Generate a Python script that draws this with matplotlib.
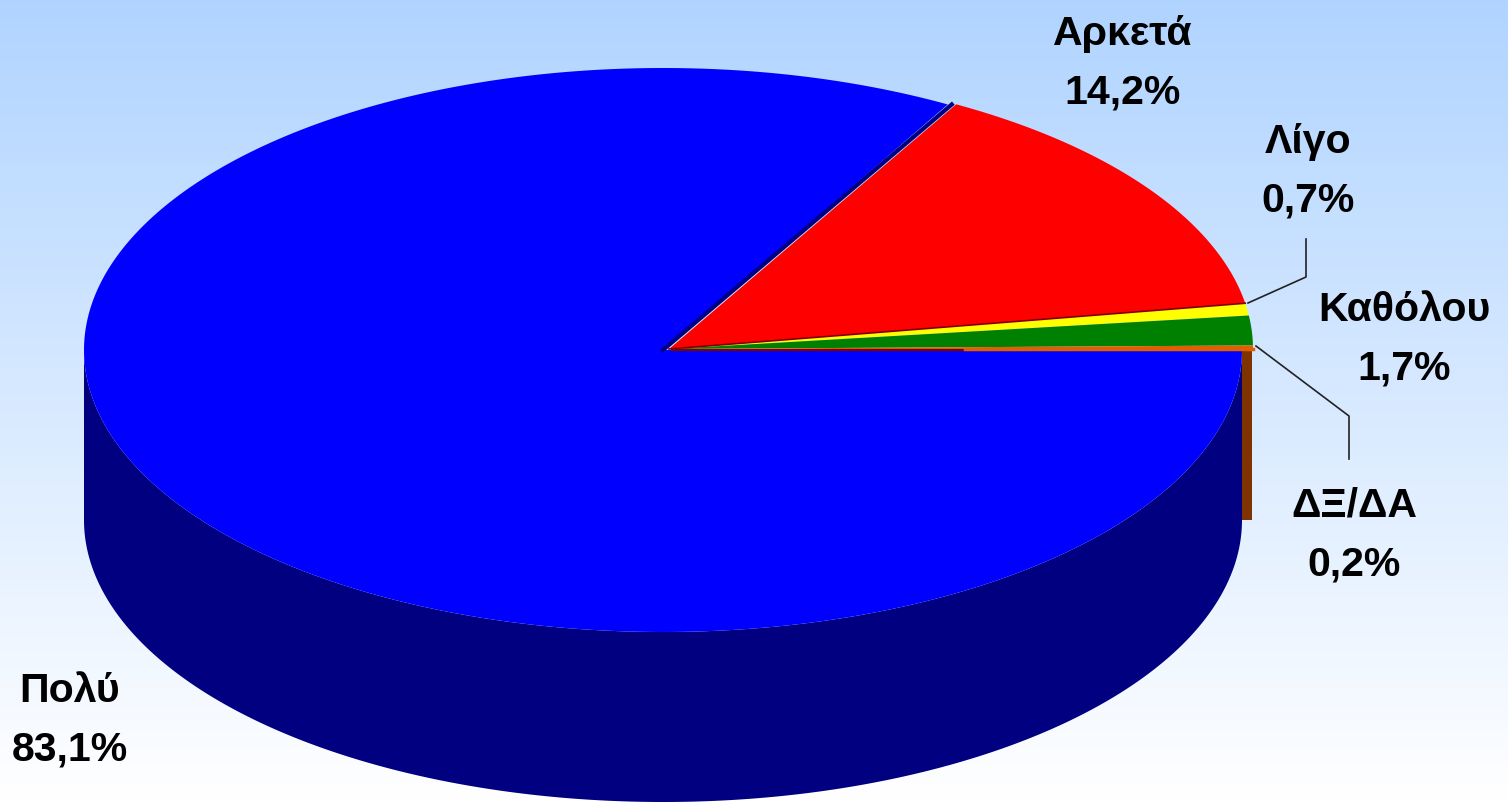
import matplotlib
matplotlib.use('Agg')
import matplotlib.pyplot as plt
import numpy as np
from matplotlib.patches import Polygon

W, H = 1508, 803

labels = ['ΔΞ/ΔΑ', 'Καθόλου', 'Λίγο', 'Αρκετά', 'Πολύ']
values = [0.2, 1.7, 0.7, 14.2, 83.1]

top_colors = ['#E06000', '#008000', '#FFFF00', '#FF0000', '#0000FF']
text_pos = [(1354, 535), (1404, 339), (1308, 171), (1123, 63), (70, 720)]

# the blue slice sits slightly inside the others
cx, cy, rx, ry = 669, 350, 584, 281
bx, by, brx, bry = 663, 351, 579, 282
depth = 170

fig = plt.figure(figsize=(W / 100, H / 100), dpi=100)
ax = fig.add_axes([0, 0, 1, 1])
ax.set_xlim(0, W)
ax.set_ylim(H, 0)
ax.axis('off')

# background gradient, blue at the top fading to near white
grad = np.linspace(0, 1, 256).reshape(-1, 1, 1)
top = np.array([0.69, 0.83, 1.0]).reshape(1, 1, 3)
bot = np.array([1.0, 1.0, 1.0]).reshape(1, 1, 3)
ax.imshow(top * (1 - grad) + bot * grad, extent=[0, W, H, 0], aspect='auto', zorder=0)

# slices run anticlockwise from 3 o'clock, Πολύ wraps round the front
stops = np.r_[0, np.cumsum(values)] / sum(values) * 2 * np.pi

# side wall of the front half
t = np.linspace(np.pi, 2 * np.pi, 300)
xs = bx + brx * np.cos(t)
ys = by - bry * np.sin(t)
pts = np.column_stack([np.r_[xs, xs[::-1]], np.r_[ys, ys[::-1] + depth]])
ax.add_patch(Polygon(pts, closed=True, fc='#000080', ec='none', zorder=2))

# thin ΔΞ/ΔΑ side strip at the right edge
ax.fill_between([1242, 1252], 351, 521, color='#7F3300', lw=0, zorder=3)

for i in [4, 3, 2, 1, 0]:
    t = np.linspace(stops[i], stops[i + 1], 300)
    x0, y0, a, b = (bx, by, brx, bry) if i == 4 else (cx, cy, rx, ry)
    xs = x0 + a * np.cos(t)
    ys = y0 - b * np.sin(t)
    pts = np.column_stack([np.r_[x0, xs], np.r_[y0, ys]])
    ax.add_patch(Polygon(pts, closed=True, fc=top_colors[i], ec='none', zorder=4))
    # dark seams, navy between blue and red, dark red under the red slice
    if i == 4:
        ax.plot([x0, xs[0] + 4], [y0, ys[0]], color='#000080', lw=3, zorder=5)
    if i == 3:
        ax.plot([x0, xs[0]], [y0, ys[0]], color='#800000', lw=1.2, zorder=5)

# ΔΞ/ΔΑ is almost a line: dark near the centre, orange towards the rim
ax.plot([672, 965], [350.5, 350.5], color='#800000', lw=1.5, zorder=5)
ax.plot([965, 1253], [349.5, 349.5], color=top_colors[0], lw=2.5, zorder=5)

# leader lines
ax.plot([1248, 1306, 1306], [304, 278, 240], color='#222222', lw=1.2, zorder=6)
ax.plot([1256, 1349, 1349], [347, 417, 460], color='#222222', lw=1.2, zorder=6)

for lab, val, (x, y) in zip(labels, values, text_pos):
    txt = lab + '\n' + f'{val:.1f}'.replace('.', ',') + '%'
    ax.text(x, y, txt, ha='center', va='center', fontsize=29.5, fontweight='bold',
            family='Liberation Sans', linespacing=1.68, color='black', zorder=7)

fig.savefig('out.png', dpi=100)
